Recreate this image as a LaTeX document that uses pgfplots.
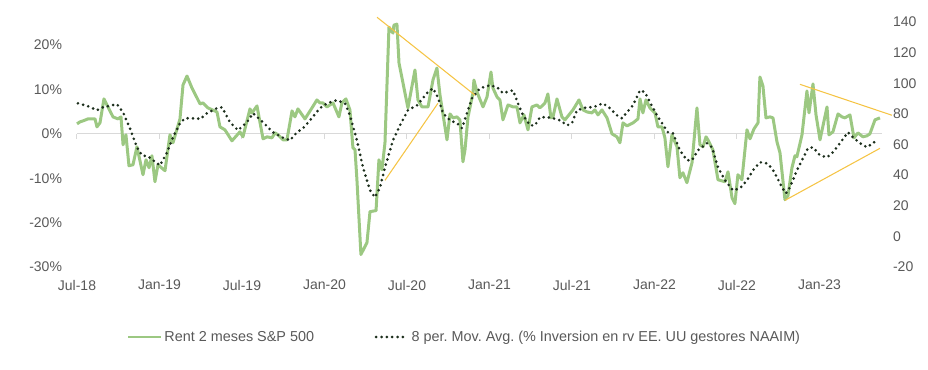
\documentclass[border=0pt]{standalone}
\usepackage{pgfplots}
\pgfplotsset{compat=1.18}
\usepackage{fontspec}
\setmainfont{Liberation Sans}
\frenchspacing
\definecolor{sgreen}{HTML}{9CC882}
\definecolor{sdot}{HTML}{1C2E1C}
\definecolor{syellow}{HTML}{F5C445}
\definecolor{tickgray}{HTML}{595959}
\definecolor{zerogray}{HTML}{D9D9D9}
\begin{document}
\begin{tikzpicture}
\path[use as bounding box] (-57.75pt,-77.25pt) rectangle (638.25pt,200.25pt);
\begin{axis}[
  at={(0,0)}, anchor=south west,
  scale only axis, width=603.75pt, height=183.75pt,
  xmin=0, xmax=58.55, ymin=-30, ymax=25.2,
  axis x line*=bottom, axis y line*=left,
  x axis line style={draw=none}, y axis line style={draw=none},
  major tick length=0pt,
  xtick={0,6,...,54},
  xticklabels={Jul-18,Jan-19,Jul-19,Jan-20,Jul-20,Jan-21,Jul-21,Jan-22,Jul-22,Jan-23},
  ytick={-30,-20,...,20},
  yticklabel={\pgfmathprintnumber{\tick}\%},
  /pgf/number format/assume math mode=true,
  tick label style={font=\fontsize{10.5}{12}\selectfont, text=tickgray},
  xticklabel style={yshift=-6.25pt},
  yticklabel style={xshift=-7.75pt},
  clip=false,
  legend columns=2,
  legend style={at={(axis description cs:0.0621,-0.2857)}, anchor=west,
    draw=none, fill=none, inner xsep=0pt, inner ysep=0pt,
    font=\fontsize{10.8}{13}\selectfont\frenchspacing, text=tickgray,
    nodes={inner xsep=1.5pt, inner ysep=1pt},
    /tikz/every even column/.append style={column sep=44pt}},
]
\addplot[zerogray, line width=0.75pt, forget plot] coordinates {(0,0) (58.55,0)};
\pgfplotsinvokeforeach{0,6,12,18,24,30,36,42,48,54}{
  \addplot[zerogray, line width=0.75pt, forget plot] coordinates {(#1,0) (#1,-1.12)};
}
\addplot[sgreen, line width=2.25pt, line join=round,
  legend image code/.code={\draw[sgreen, line width=1.6pt] (0pt,0pt) -- (24.75pt,0pt);}]
coordinates {
(0.00,2.25) (0.22,2.70) (0.44,2.92) (0.80,3.37) (1.31,3.37) (1.45,1.57) (1.67,2.47)
(1.96,7.87) (2.25,6.07) (2.62,3.82) (2.98,3.37) (3.20,3.82) (3.35,-2.47) (3.56,-0.22)
(3.78,-7.19) (4.07,-6.97) (4.36,-2.92) (4.80,-9.21) (5.02,-5.84) (5.24,-7.64) (5.45,-4.94)
(5.67,-10.79) (5.89,-6.97) (6.40,-8.31) (6.76,-0.22) (6.98,-2.02) (7.49,3.37) (7.71,11.01)
(8.00,13.03) (8.36,10.34) (8.73,8.09) (8.95,6.74) (9.16,6.97) (9.53,5.84) (10.18,4.94)
(10.40,1.57) (10.76,0.90) (11.27,-1.57) (11.85,0.45) (12.07,-0.67) (12.58,5.62) (12.73,4.72)
(13.09,6.29) (13.53,-1.12) (13.82,-0.67) (14.18,-0.90) (14.40,0.22) (14.62,-0.22) (14.98,-1.35)
(15.27,-1.35) (15.64,5.17) (15.85,3.82) (16.07,5.62) (16.58,3.37) (17.09,5.84) (17.45,7.64)
(17.67,6.97) (17.89,6.97) (18.18,6.07) (18.62,6.97) (19.05,3.82) (19.27,6.97) (19.56,7.87)
(19.85,5.39) (20.07,-3.15) (20.22,-3.60) (20.36,-10.34) (20.65,-27.19) (21.09,-24.49) (21.31,-17.53)
(21.75,-17.30) (21.96,-5.84) (22.18,-8.09) (22.40,-2.02) (22.69,24.04) (22.98,22.70) (23.05,24.49)
(23.27,24.72) (23.42,15.96) (24.07,5.84) (24.58,14.38) (24.80,7.64) (25.09,6.07) (25.53,6.07)
(25.89,12.13) (26.18,14.83) (26.40,8.76) (26.91,-1.35) (27.13,4.49) (27.35,3.60) (27.64,3.82)
(27.85,3.15) (28.07,-6.29) (28.22,-3.60) (28.44,3.82) (28.80,9.21) (28.87,12.13) (29.09,9.44)
(29.53,6.07) (29.82,8.31) (30.11,13.93) (30.25,10.34) (30.55,8.31) (30.76,7.64) (30.98,3.15)
(31.35,6.52) (31.71,6.07) (32.00,6.07) (32.22,2.47) (32.51,4.27) (32.80,0.90) (33.09,6.07)
(33.45,6.52) (33.67,5.84) (34.04,6.97) (34.25,8.99) (34.47,3.60) (34.62,3.82) (34.91,7.87)
(35.27,3.82) (35.49,3.15) (36.07,5.39) (36.51,7.64) (36.80,5.39) (37.09,4.94) (37.45,4.72)
(37.67,5.39) (37.89,4.27) (38.18,5.39) (38.55,3.60) (38.91,0.00) (39.27,-0.67) (39.49,-2.02)
(39.71,2.47) (40.00,1.80) (40.44,2.47) (40.80,3.37) (40.95,7.87) (41.16,4.72) (41.38,7.64)
(41.67,5.84) (42.04,4.72) (42.25,1.57) (42.55,1.57) (42.76,-0.90) (42.98,-7.42) (43.27,-0.22)
(43.64,-2.92) (43.85,-9.89) (44.07,-8.76) (44.36,-11.01) (44.73,-6.52) (45.09,5.84) (45.31,-2.47)
(45.53,-2.92) (45.75,-0.67) (45.89,-1.35) (46.25,-3.60) (46.62,-10.34) (47.13,-10.79) (47.35,-8.54)
(47.64,-14.38) (47.85,-15.73) (48.07,-9.21) (48.36,-10.34) (48.73,0.90) (48.95,-1.12) (49.24,1.12)
(49.53,2.47) (49.67,12.81) (49.89,10.79) (50.11,3.60) (50.40,3.82) (50.62,3.60) (50.91,-1.80)
(51.13,-4.27) (51.49,-14.83) (51.71,-13.93) (52.00,-7.64) (52.22,-4.94) (52.36,-5.17) (52.73,-0.22)
(53.09,9.66) (53.24,4.72) (53.53,11.24) (53.75,4.27) (54.04,-1.35) (54.55,6.07) (54.69,-0.22)
(54.98,0.45) (55.35,4.49) (55.64,3.82) (55.85,3.60) (56.22,4.27) (56.51,-0.90) (56.80,0.22)
(57.16,-0.67) (57.45,-0.45) (57.67,0.00) (58.04,3.15) (58.40,3.60)
};
\addlegendentry{Rent 2 meses S\&P 500}
\addlegendimage{sdot, line width=2.2pt, line cap=round, dash pattern=on 0pt off 4pt,
  legend image code/.code={\draw[sdot, line width=2.2pt, line cap=round, dash pattern=on 0pt off 4pt] (0pt,0pt) -- (20.25pt,0pt); \path (24pt,0pt);}}
\addlegendentry{8 per. Mov. Avg. (\% Inversion en rv EE. UU gestores NAAIM)}
\end{axis}
\begin{axis}[
  at={(0,0)}, anchor=south west,
  scale only axis, width=603.75pt, height=183.75pt,
  xmin=0, xmax=58.55, ymin=-20, ymax=140,
  axis x line=none, axis y line*=right,
  y axis line style={draw=none},
  major tick length=0pt,
  ytick={-20,0,...,140},
  /pgf/number format/assume math mode=true,
  tick label style={font=\fontsize{10.5}{12}\selectfont, text=tickgray},
  yticklabel style={xshift=4.75pt},
  clip=false,
]
\addplot[sdot, line width=2.2pt, line cap=round, dash pattern=on 0pt off 4pt]
coordinates {
(0.07,86.9) (0.80,85.0) (1.45,82.4) (1.89,84.3) (2.91,86.3) (3.35,81.0) (3.85,70.6)
(4.36,58.2) (4.73,52.9) (5.16,52.3) (5.53,49.7) (6.04,46.4) (6.55,54.9) (6.98,64.7)
(7.49,73.9) (7.85,77.1) (8.73,77.1) (8.95,76.5) (9.45,80.4) (10.18,83.7) (10.55,84.3)
(11.13,74.5) (11.71,69.3) (12.36,74.5) (12.80,80.4) (13.53,74.5) (14.25,68.0) (14.91,64.7)
(15.49,62.7) (16.00,68.0) (16.44,70.6) (16.95,75.8) (17.67,83.7) (18.18,86.9) (18.91,88.9)
(19.49,86.9) (19.85,79.1) (20.36,62.7) (20.80,45.1) (21.31,30.1) (21.67,25.5) (22.04,32.0)
(22.40,45.1) (22.98,62.7) (23.49,72.5) (24.07,82.4) (24.73,85.6) (25.45,93.5) (25.89,96.7)
(26.25,90.8) (26.62,80.4) (27.13,75.8) (27.64,73.9) (28.00,70.6) (28.36,80.4) (28.73,90.2)
(29.31,96.7) (30.04,98.7) (30.55,97.4) (30.98,93.5) (31.71,95.4) (32.07,86.9) (32.44,79.1)
(32.95,72.5) (33.31,72.5) (33.67,77.8) (34.18,77.8) (34.62,77.1) (35.13,75.8) (35.64,72.5)
(36.00,73.9) (36.36,82.4) (37.09,84.3) (37.53,84.3) (38.25,86.9) (38.76,83.7) (39.27,79.1)
(39.64,77.1) (40.00,81.0) (40.44,85.6) (40.95,95.4) (41.31,94.1) (41.67,87.6) (42.18,79.1)
(42.55,73.9) (42.98,68.0) (43.35,67.3) (43.85,56.2) (44.36,49.7) (44.73,49.7) (45.16,56.2)
(45.82,60.8) (46.18,58.2) (46.62,45.1) (47.13,36.6) (47.71,30.1) (48.22,31.4) (48.73,36.6)
(49.16,43.1) (49.67,48.4) (50.18,47.7) (50.55,44.4) (50.91,38.6) (51.27,32.0) (51.56,28.1)
(51.85,32.0) (52.36,43.1) (52.73,49.7) (53.16,57.5) (53.53,58.2) (54.04,52.9) (54.55,51.6)
(54.98,54.9) (55.49,60.8) (56.07,68.0) (56.44,64.7) (56.95,60.8) (57.45,58.2) (57.89,60.8)
(58.25,63.4)
};
\addplot[syellow, line width=0.8pt] coordinates {(21.82,143.1) (28.95,92.2)};
\addplot[syellow, line width=0.8pt] coordinates {(22.40,36.6) (26.25,86.9)};
\addplot[syellow, line width=0.8pt] coordinates {(52.58,99.3) (59.27,79.1)};
\addplot[syellow, line width=0.8pt] coordinates {(51.49,23.5) (58.40,57.5)};
\end{axis}
\end{tikzpicture}
\end{document}
